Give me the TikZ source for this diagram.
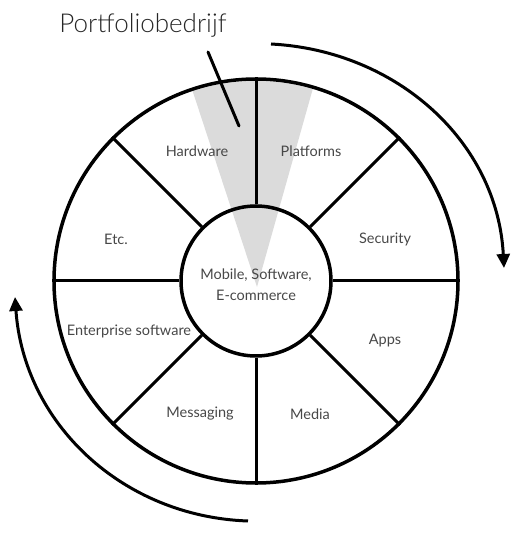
\documentclass[tikz,border=0pt]{standalone}
\usepackage{fontspec}
\setmainfont{Lato}[UprightFont={* Light}]
\newfontfamily\labelfont{Lato}
\usetikzlibrary{arrows.meta}

\begin{document}
\begin{tikzpicture}[x=1pt, y=1pt,
    every node/.style={font=\labelfont\fontsize{14.5}{21}\selectfont, text=black!72},
    ring/.style={circle, draw, line width=3.5pt, inner sep=0pt},
    spoke/.style={line width=3pt},
    turn/.style={line width=3pt, -{Triangle[width=13pt, length=14pt]}}]

    \useasboundingbox (0,0) rectangle (526,536);

    % Wedge
    \begin{scope}
        \clip (256,255) circle (200);
        \fill[black!14] (257,249) -- (187,462) -- (317,462) -- cycle;
    \end{scope}

    % Nodes
    \node[ring, minimum size=404pt] (outer) at (256,255) {};
    \node[ring, minimum size=150pt] (hub) at (256,255) {};
    \node[align=center] (hubtext) at (256,251) {Mobile, Software,\\E-commerce};

    \node (hardware) at (197,385) {Hardware};
    \node (platforms) at (311,385) {Platforms};
    \node (security) at (385,297) {Security};
    \node (etc) at (116,297) {Etc.};
    \node (apps) at (385,195) {Apps};
    \node (enterprise) at (129,205) {Enterprise software};
    \node (messaging) at (200,122) {Messaging};
    \node (media) at (310,122) {Media};

    \node[font=\rmfamily\fontsize{26}{30}\selectfont, text=black!85] (title) at (143,511) {Portfoliobedrijf};

    \coordinate (pinA) at (208,484);
    \coordinate (pinB) at (239,410);
    \coordinate (cwA) at (271,492);
    \coordinate (cwB) at (504,268);
    \coordinate (ccwA) at (248,15);
    \coordinate (ccwB) at (15,239);

    % Edges
    \draw[spoke] (hub.0) -- (outer.0);
    \draw[spoke] (hub.45) -- (outer.45);
    \draw[spoke] (hub.90) -- (outer.90);
    \draw[spoke] (hub.135) -- (outer.135);
    \draw[spoke] (hub.180) -- (outer.180);
    \draw[spoke] (hub.225) -- (outer.225);
    \draw[spoke] (hub.270) -- (outer.270);
    \draw[spoke] (hub.315) -- (outer.315);

    \draw[line width=3pt, line cap=round] (pinA) -- (pinB);
    \draw[turn] (cwA) to[out=-3, in=93] (cwB);
    \draw[turn] (ccwA) to[out=178, in=274] (ccwB);

\end{tikzpicture}
\end{document}
